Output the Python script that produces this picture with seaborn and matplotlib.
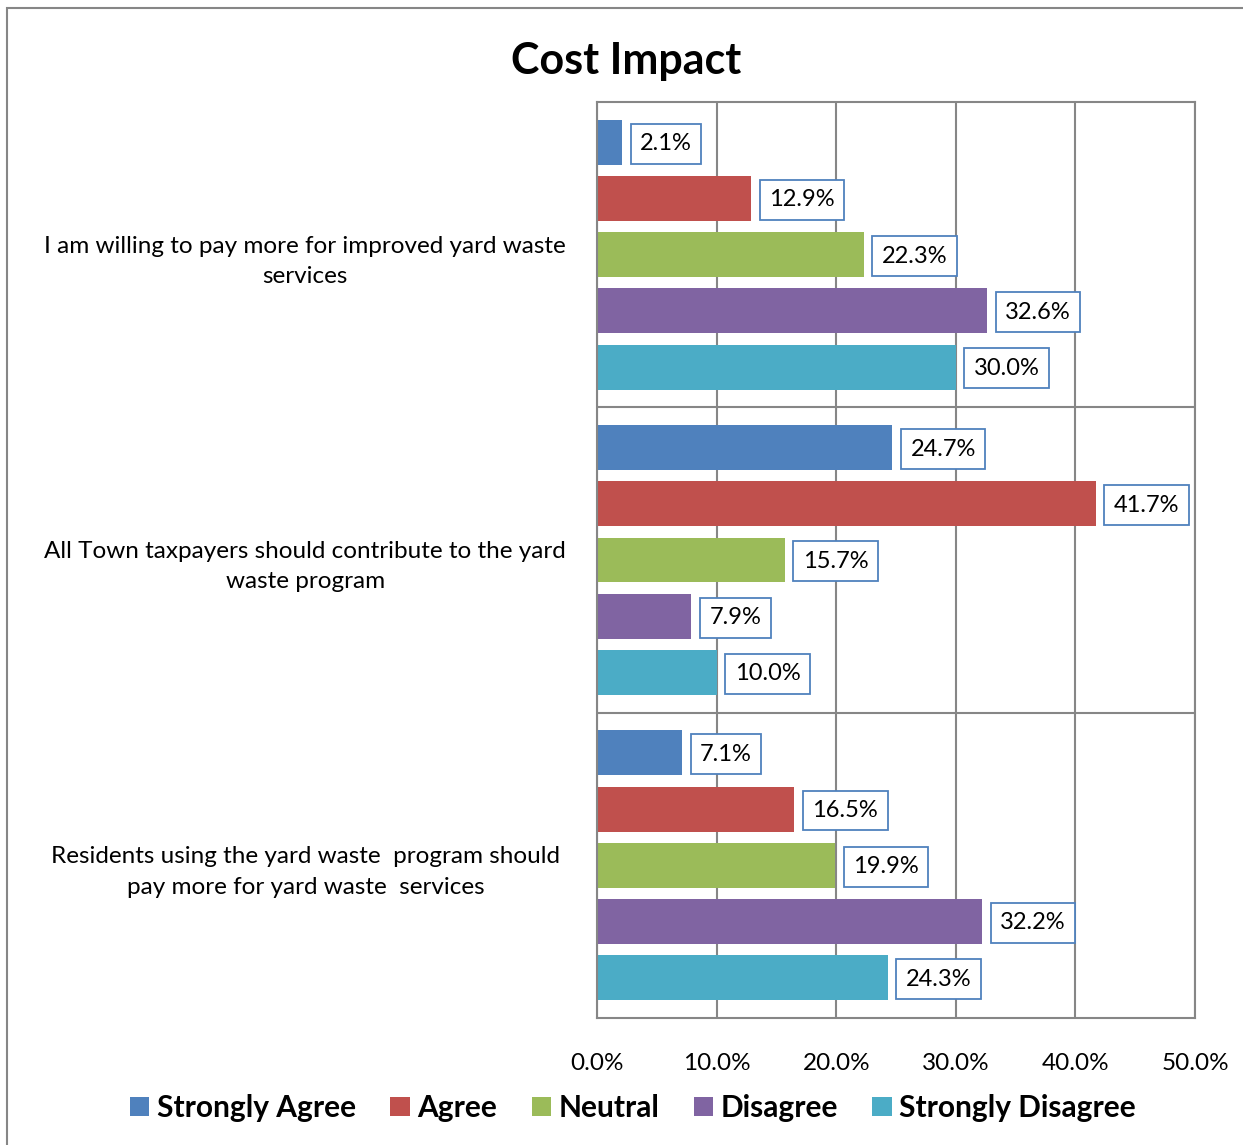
import matplotlib
matplotlib.use("Agg")
import matplotlib.pyplot as plt
import seaborn as sns
import pandas as pd
from matplotlib.patches import Rectangle
from matplotlib.ticker import FuncFormatter

questions = [
    "I am willing to pay more for improved yard waste\nservices",
    "All Town taxpayers should contribute to the yard\nwaste program",
    "Residents using the yard waste  program should\npay more for yard waste  services",
]
responses = ["Strongly Agree", "Agree", "Neutral", "Disagree", "Strongly Disagree"]
colors = ["#4F81BD", "#C0504D", "#9BBB59", "#8064A2", "#4BACC6"]
values = {
    "Strongly Agree":    [2.1, 24.7, 7.1],
    "Agree":             [12.9, 41.7, 16.5],
    "Neutral":           [22.3, 15.7, 19.9],
    "Disagree":          [32.6, 7.9, 32.2],
    "Strongly Disagree": [30.0, 10.0, 24.3],
}
x_ticks = [0, 10, 20, 30, 40, 50]

rows = []
for r in responses:
    for q, v in zip(questions, values[r]):
        rows.append({"Question": q, "Response": r, "Value": v})
df = pd.DataFrame(rows)

sns.set_theme(style="white")
plt.rcParams["font.family"] = ["Lato", "DejaVu Sans"]
plt.rcParams["text.color"] = "black"
plt.rcParams["xtick.color"] = "black"
plt.rcParams["ytick.color"] = "black"

fig = plt.figure(figsize=(12.43, 11.45), dpi=100)
ax = fig.add_axes([597/1243, 1-1018/1145, (1195-597)/1243, (1018-102)/1145])

sns.barplot(data=df, y="Question", x="Value", hue="Response",
            order=questions, hue_order=responses, palette=colors,
            orient="h", width=0.92, gap=0.2, ax=ax, legend=True,
            saturation=1, edgecolor="none")

ax.set_xlim(0, 50)
ax.set_ylim(2.5, -0.5)
ax.set_xticks(x_ticks)
ax.xaxis.set_major_formatter(FuncFormatter(lambda v, p: f"{v:.1f}%"))
ax.tick_params(axis="x", length=0, pad=25, labelsize=17.5, labelcolor="black")
ax.tick_params(axis="y", length=0, labelsize=17.5, pad=210, labelcolor="black")
for lbl in ax.get_yticklabels():
    lbl.set_horizontalalignment("center")
    lbl.set_multialignment("center")
    lbl.set_linespacing(1.55)
ax.set_xlabel("")
ax.set_ylabel("")
ax.grid(False)
for xt in x_ticks:
    ax.axvline(xt, color="#868686", lw=1.5, zorder=0)
for yb in [0.5, 1.5]:
    ax.axhline(yb, color="#868686", lw=1.5, zorder=0)
for s in ax.spines.values():
    s.set_color("#868686")
    s.set_linewidth(1.5)

for cont in ax.containers:
    for bar in cont:
        w = bar.get_width()
        yc = bar.get_y() + bar.get_height() / 2
        ax.annotate(f"{w:.1f}%", xy=(w, yc), xytext=(13, -1),
                    textcoords="offset points", ha="left", va="center",
                    fontsize=17, color="black",
                    bbox=dict(boxstyle="square,pad=0.4", fc="white",
                              ec="#4F81BD", lw=1.3))

ax.set_title("")
fig.text(626/1243, 1-61/1145, "Cost Impact", ha="center", va="center",
         fontsize=31, fontweight="bold", color="black")

h, l = ax.get_legend_handles_labels()
ax.get_legend().remove()
fig.legend(h, l, loc="center", bbox_to_anchor=(633/1243, 1-1108/1145),
           ncol=5, frameon=False, handlelength=0.65, handleheight=0.65,
           handletextpad=0.25, columnspacing=1.15,
           prop={"size": 21.5, "weight": "bold"})

fig.patches.append(Rectangle((7/1243, -0.1), 1.2, 1-8/1145+0.1,
                             transform=fig.transFigure, fill=False,
                             ec="#868686", lw=1.5))

fig.savefig("out.png", dpi=100, facecolor="white")
